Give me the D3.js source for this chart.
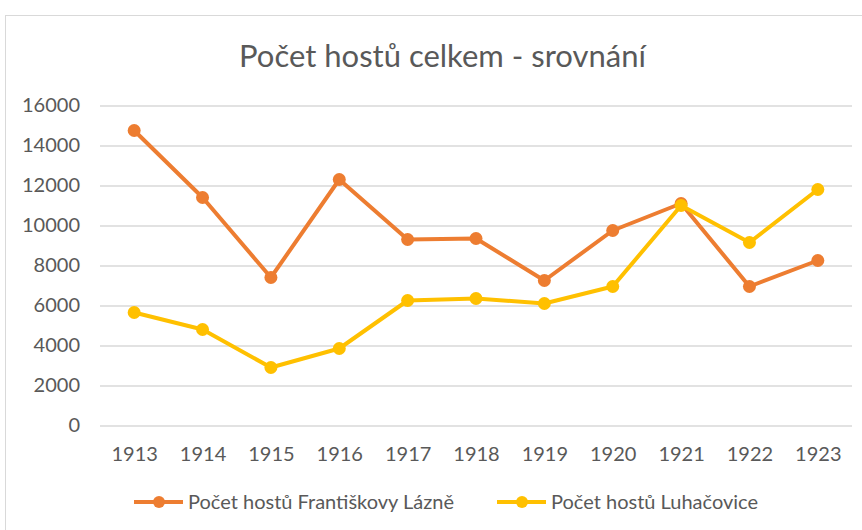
<!DOCTYPE html>
<html>
<head>
<meta charset="utf-8">
<script src="https://cdn.jsdelivr.net/npm/d3@7"></script>
<style>
  html, body { margin: 0; padding: 0; background: #ffffff; }
  svg { display: block; }
  text { font-family: Lato, "Open Sans", sans-serif; fill: #595959; }
</style>
</head>
<body>
<svg id="chart" width="862" height="530"></svg>
<script>
// Guests per year at two Czech spa towns
const years = ["1913", "1914", "1915", "1916", "1917", "1918", "1919", "1920", "1921", "1922", "1923"];
const frantiskovyLazne = [14750, 11400, 7400, 12300, 9300, 9350, 7250, 9750, 11100, 6950, 8250];
const luhacovice = [5650, 4800, 2900, 3850, 6250, 6350, 6100, 6950, 11000, 9150, 11800];
const yTicks = [0, 2000, 4000, 6000, 8000, 10000, 12000, 14000, 16000];
const seriesNames = ["Počet hostů Františkovy Lázně", "Počet hostů Luhačovice"];
const seriesColors = ["#ED7D31", "#FFC000"];
const chartTitle = "Počet hostů celkem - srovnání";

const svg = d3.select("#chart");
const W = 862, H = 530;

// Outer chart frame
svg.append("rect")
  .attr("x", 5.5).attr("y", 15.5)
  .attr("width", 900).attr("height", 600)
  .attr("fill", "#ffffff")
  .attr("stroke", "#d9d9d9")
  .attr("stroke-width", 1);

const plot = { left: 100, right: 852, top: 105.5, bottom: 425.5 };

const x = d3.scalePoint().domain(years).range([plot.left, plot.right]).padding(0.5);
const y = d3.scaleLinear().domain([0, 16000]).range([plot.bottom, plot.top]);

// Title
svg.append("text")
  .attr("x", 442.5).attr("y", 67)
  .attr("text-anchor", "middle")
  .style("font-size", "31px")
  .text(chartTitle);

// Horizontal gridlines and value labels
const yAxis = d3.axisLeft(y).tickValues(yTicks).tickSize(-(plot.right - plot.left)).tickPadding(20).tickFormat(d3.format("d"));
const gy = svg.append("g").attr("transform", `translate(${plot.left},0)`).call(yAxis);
gy.select(".domain").remove();
gy.selectAll(".tick line").attr("stroke", "#d9d9d9").attr("stroke-width", 1.3);
gy.selectAll(".tick text").attr("fill", "#595959").style("font-size", "20px").style("font-family", "Lato, 'Open Sans', sans-serif");

// Category labels
const xAxis = d3.axisBottom(x).tickSize(0).tickPadding(21);
const gx = svg.append("g").attr("transform", `translate(0,${plot.bottom})`).call(xAxis);
gx.select(".domain").remove();
gx.selectAll(".tick text").attr("fill", "#595959").style("font-size", "20px").style("font-family", "Lato, 'Open Sans', sans-serif");

// Lines with markers
const seriesData = [frantiskovyLazne, luhacovice];
const line = d3.line().x((d, i) => x(years[i])).y(d => y(d));

seriesData.forEach((vals, s) => {
  const g = svg.append("g");
  g.append("path")
    .datum(vals)
    .attr("d", line)
    .attr("fill", "none")
    .attr("stroke", seriesColors[s])
    .attr("stroke-width", 4)
    .attr("stroke-linejoin", "round")
    .attr("stroke-linecap", "round");
  g.selectAll("circle")
    .data(vals)
    .join("circle")
    .attr("cx", (d, i) => x(years[i]))
    .attr("cy", d => y(d))
    .attr("r", 6.5)
    .attr("fill", seriesColors[s]);
});

// Legend
const legendItems = [
  { x0: 134, text: seriesNames[0], color: seriesColors[0] },
  { x0: 497, text: seriesNames[1], color: seriesColors[1] }
];
const ly = 502;
legendItems.forEach(it => {
  const g = svg.append("g");
  g.append("line")
    .attr("x1", it.x0).attr("x2", it.x0 + 49)
    .attr("y1", ly).attr("y2", ly)
    .attr("stroke", it.color).attr("stroke-width", 4);
  g.append("circle")
    .attr("cx", it.x0 + 25).attr("cy", ly).attr("r", 6)
    .attr("fill", it.color);
  g.append("text")
    .attr("x", it.x0 + 54).attr("y", ly)
    .attr("dy", "0.35em")
    .style("font-size", "20px")
    .text(it.text);
});
</script>
</body>
</html>
